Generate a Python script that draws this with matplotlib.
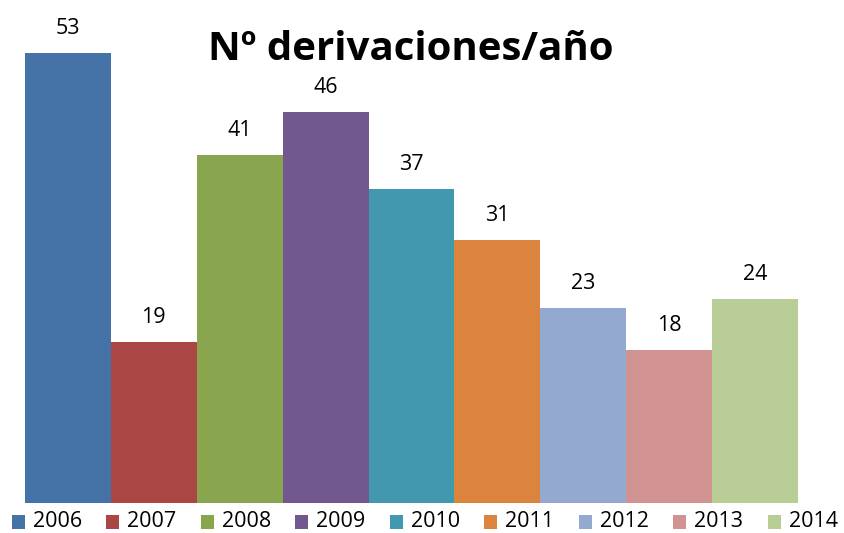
import matplotlib
matplotlib.use("Agg")
import matplotlib.pyplot as plt
from matplotlib.patches import Rectangle

years = ["2006", "2007", "2008", "2009", "2010", "2011", "2012", "2013", "2014"]
values = [53, 19, 41, 46, 37, 31, 23, 18, 24]
colors = ["#4572a7", "#aa4643", "#89a54e", "#71588f", "#4198af", "#db843d",
          "#93a9cf", "#d19392", "#b9cd96"]
title = "Nº derivaciones/año"

plt.rcParams['font.family'] = ['Open Sans', 'DejaVu Sans']

fig = plt.figure(figsize=(8.45, 5.33), dpi=100)
W, H = 845, 533
ax = fig.add_axes([25 / W, 1 - 503 / H, (798 - 25) / W, 501 / H])
x = list(range(len(years)))
ax.bar(x, values, width=1.0, color=colors, align='center')
ax.set_xlim(-0.5, len(years) - 0.5)
ax.set_ylim(0, 59)
for xi, v in zip(x, values):
    ax.annotate(str(v), (xi, v), xytext=(0, 19), textcoords='offset pixels',
                ha='center', va='baseline', fontsize=15.5, color='#000000')
ax.axis('off')

fig.text(411 / W, 1 - 60 / H, title, ha='center', va='baseline',
         fontsize=29, fontweight='bold', color='#000000')

# legend
pitch = 94.5
for i, (yr, c) in enumerate(zip(years, colors)):
    x0 = 12 + i * pitch
    fig.patches.append(Rectangle((x0 / W, 1 - 529 / H), 13 / W, 14 / H,
                                 transform=fig.transFigure, facecolor=c,
                                 edgecolor='none'))
    fig.text((x0 + 21) / W, 1 - 527 / H, yr, ha='left', va='baseline',
             fontsize=15.5, color='#000000')

fig.savefig("out.png", dpi=100)
